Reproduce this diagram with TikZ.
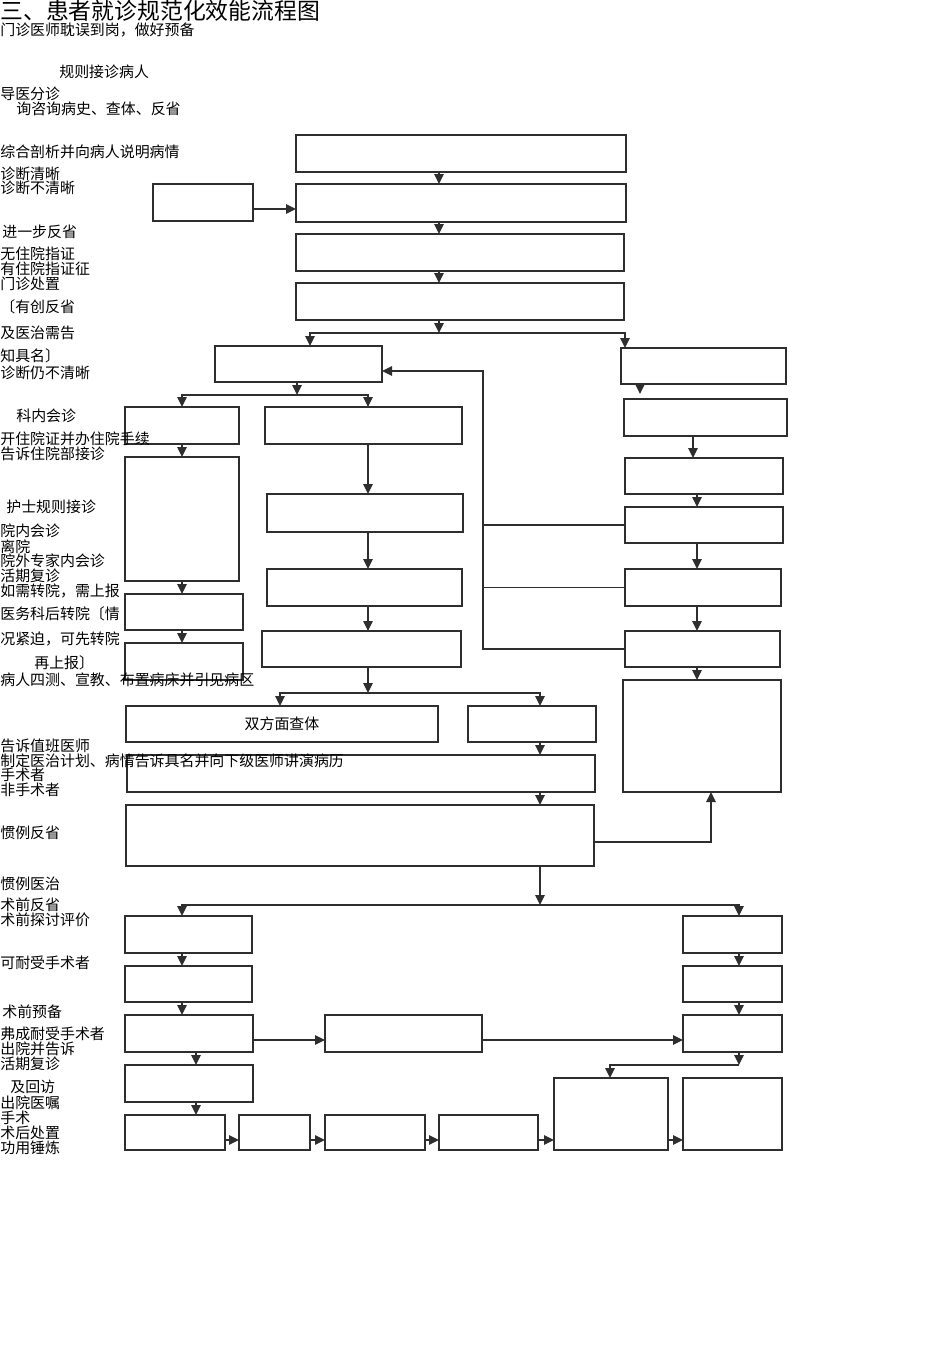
\documentclass[tikz,border=0pt]{standalone}
\usepackage{fontspec}
\usepackage{tikz}
\usetikzlibrary{arrows.meta,positioning,calc}
\newfontfamily\cjk{Noto Sans CJK SC}
\definecolor{fcLine}{HTML}{2E2E2E}
\tikzset{
  fcbox/.style={draw=fcLine, line width=0.85pt, fill=white, inner sep=0pt, outer sep=0pt,
    anchor=north west, font=\cjk\fontsize{8.5}{10}\selectfont},
  fcarr/.style={-{Triangle[length=2mm,width=1.9mm]}, line width=0.85pt, fcLine},
  fcline/.style={line width=0.85pt, fcLine},
  fclbl/.style={anchor=west, inner sep=0pt, font=\cjk\fontsize{8.5}{10}\selectfont},
  fctitle/.style={anchor=west, inner sep=0pt, font=\cjk\fontsize{13}{15}\selectfont}
}
\begin{document}
\begin{tikzpicture}[x=0.2mm, y=-0.2mm]
  \useasboundingbox (0,0) rectangle (950,1345);
  % boxes: name / left / top / right / bottom (px)
  \foreach \n/\a/\b/\c/\d in {
      b1/296/135/626/172, b2/296/184/626/222, l1/153/184/253/221,
      b3/296/234/624/271, b4/296/283/624/320,
      a/215/346/382/382, r1/621/348/786/384, r2/624/399/787/436,
      r3/625/458/783/494, r4/625/507/783/543, r5/625/569/781/606,
      r6/625/631/780/667, r7/623/680/781/792,
      m1/265/407/462/444, m2/267/494/463/532, m3/267/569/462/606, m4/262/631/461/667,
      c1/125/407/239/444, c2/125/457/239/581, c3/125/594/243/630, c4/125/643/243/680,
      d2/468/706/596/742, d3/127/755/595/792, d4/126/805/594/866,
      e1/125/916/252/953, e2/125/966/252/1002, e3/125/1015/253/1052,
      e4/125/1065/253/1102, e5/125/1115/225/1150,
      f1/239/1115/310/1150, f2/325/1115/425/1150, f3/439/1115/538/1150,
      f4/554/1078/668/1150, f5/683/1078/782/1150,
      g1/683/916/782/953, g2/683/966/782/1002, g3/683/1015/782/1052,
      h1/325/1015/482/1052}{
    \node[fcbox, minimum width=(\c-\a)*0.2mm, minimum height=(\d-\b)*0.2mm] (\n) at (\a,\b) {};
  }
  \node[fcbox, minimum width=62.4mm, minimum height=7.2mm] (d1) at (126,706) {双方面查体};

  % column lines and junctions
  \coordinate (xa) at (439,0);
  \coordinate (xv) at (483,0);
  \coordinate (j1) at (439,333);
  \coordinate (j2) at (297,395);
  \coordinate (j3) at (368,693);
  \coordinate (j4) at (540,905);
  \coordinate (j5) at (739,1065);
  \coordinate (yb) at (0,1140);

  \foreach \s/\e in {b1/b2, b2/b3, b3/b4}{\draw[fcarr] (\s.south -| xa) -- (\e.north -| xa);}
  \draw[fcarr] ([yshift=-1.3mm]l1.east) -- ([yshift=-1.3mm]l1.east -| b2.west);
  \draw[fcarr] (b4.south -| j1) -- (j1);
  \draw[fcarr] (j1) -| (a.north -| 310,0);
  \draw[fcarr] (j1) -| (r1.north -| 625,0);

  % right column
  \draw[fcarr, shorten >=1mm] (r1.south -| 640,0) -- (r2.north -| 640,0);
  \draw[fcarr] (r2.south -| 693,0) -- (r3.north -| 693,0);
  \foreach \s/\e in {r3/r4, r4/r5, r5/r6, r6/r7}{\draw[fcarr] (\s.south -| 697,0) -- (\e.north -| 697,0);}
  \draw[fcline] (r4.west) -- (r4.west -| xv);
  \draw[fcline] (r5.west) -- (r5.west -| xv);
  \draw[fcarr] (r6.west) -- (r6.west -| xv) |- ([yshift=-1.4mm]a.east);

  % middle and left columns
  \draw[fcarr] (a.south -| j2) -- (j2);
  \draw[fcarr] (j2) -| (c1.north -| 182,0);
  \draw[fcarr] (j2) -| (m1.north -| 368,0);
  \foreach \s/\e in {m1/m2, m2/m3, m3/m4}{\draw[fcarr] (\s.south -| 368,0) -- (\e.north -| 368,0);}
  \foreach \s/\e in {c1/c2, c2/c3, c3/c4}{\draw[fcarr] (\s.south -| 182,0) -- (\e.north -| 182,0);}
  \draw[fcarr] (m4.south -| j3) -- (j3);
  \draw[fcarr] (j3) -| (d1.north -| 280,0);
  \draw[fcarr] (j3) -| (d2.north -| 540,0);
  \foreach \s/\e in {d2/d3, d3/d4}{\draw[fcarr] (\s.south -| 540,0) -- (\e.north -| 540,0);}
  \draw[fcarr] ([yshift=-1.3mm]d4.east) -| (r7.south -| 711,0);

  % lower part
  \draw[fcarr] (d4.south -| j4) -- (j4);
  \draw[fcarr] (j4) -| (e1.north -| 182,0);
  \draw[fcarr] (j4) -| (g1.north -| 739,0);
  \foreach \s/\e in {e1/e2, e2/e3}{\draw[fcarr] (\s.south -| 182,0) -- (\e.north -| 182,0);}
  \foreach \s/\e in {e3/e4, e4/e5}{\draw[fcarr] (\s.south -| 196,0) -- (\e.north -| 196,0);}
  \foreach \s/\e in {g1/g2, g2/g3}{\draw[fcarr] (\s.south -| 739,0) -- (\e.north -| 739,0);}
  \draw[fcarr] ([yshift=-1.3mm]e3.east) -- ([yshift=-1.3mm]h1.west);
  \draw[fcarr] ([yshift=-1.3mm]h1.east) -- ([yshift=-1.3mm]g3.west);
  \draw[fcarr] (g3.south -| j5) -- (j5);
  \draw[fcarr] (j5) -| (f4.north -| 610,0);
  \foreach \s/\e in {e5/f1, f1/f2, f2/f3, f3/f4, f4/f5}{\draw[fcarr] (\s.east |- yb) -- (\e.west |- yb);}

  % texts on the left
  \node[fctitle] (title) at (0,11) {三、患者就诊规范化效能流程图};
  \foreach \x/\y/\t [count=\i] in {
      0/30/门诊医师耽误到岗，做好预备, 59/72/规则接诊病人, 0/94/导医分诊,
      16/109/询咨询病史、查体、反省, 0/152/综合剖析并向病人说明病情,
      0/174/诊断清晰, 0/188/诊断不清晰, 2/232/进一步反省, 0/254/无住院指证,
      0/269/有住院指证征, 0/284/门诊处置, 0/307/〔有创反省, 0/333/及医治需告,
      0/356/知具名〕, 0/373/诊断仍不清晰, 16/416/科内会诊,
      0/439/开住院证并办住院手续, 0/454/告诉住院部接诊, 6/507/护士规则接诊,
      0/531/院内会诊, 0/547/离院, 0/561/院外专家内会诊, 0/576/活期复诊,
      0/591/如需转院，需上报, 0/614/医务科后转院〔情, 0/639/况紧迫，可先转院,
      34/663/再上报〕, 0/680/病人四测、宣教、布置病床并引见病区,
      0/746/告诉值班医师, 0/761/制定医治计划、病情告诉具名并向下级医师讲演病历,
      0/775/手术者, 0/790/非手术者, 0/833/惯例反省, 0/884/惯例医治,
      0/905/术前反省, 0/920/术前探讨评价, 0/963/可耐受手术者, 2/1012/术前预备,
      0/1034/弗成耐受手术者, 0/1049/出院并告诉, 0/1064/活期复诊, 10/1087/及回访,
      0/1103/出院医嘱, 0/1118/手术, 0/1133/术后处置, 0/1148/功用锤炼}{
    \node[fclbl] (t\i) at (\x,\y) {\t};
  }
\end{tikzpicture}
\end{document}
